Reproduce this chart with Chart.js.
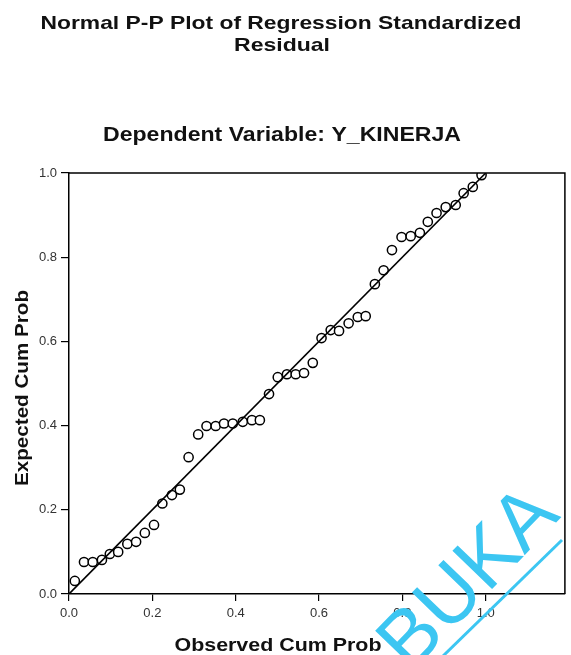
<!DOCTYPE html>
<html>
<head>
<meta charset="utf-8">
<script src="https://cdn.jsdelivr.net/npm/chart.js@4.4.1/dist/chart.umd.min.js"></script>
<style>
  html, body { margin: 0; padding: 0; background: #fff; }
  #wrap { width: 571px; height: 655px; position: relative; }
</style>
</head>
<body>
<div id="wrap"><canvas id="c" width="571" height="655"></canvas></div>
<script>
// ---- data ----
const titleLines = ["Normal P-P Plot of Regression Standardized", "Residual"];
const subtitleText = "Dependent Variable: Y_KINERJA";
const xTitle = "Observed Cum Prob";
const yTitle = "Expected Cum Prob";
const watermarkText = "BUKA";

const observedCumProb = [
  0.014, 0.036, 0.057, 0.079, 0.098, 0.118, 0.140, 0.161, 0.182, 0.204,
  0.224, 0.247, 0.266, 0.287, 0.310, 0.330, 0.352, 0.372, 0.393, 0.417,
  0.439, 0.458, 0.480, 0.501, 0.523, 0.544, 0.564, 0.585, 0.606, 0.628,
  0.648, 0.671, 0.693, 0.712, 0.734, 0.755, 0.775, 0.798, 0.820, 0.842,
  0.861, 0.882, 0.904, 0.928, 0.947, 0.969, 0.990
];
const expectedCumProb = [
  0.031, 0.076, 0.076, 0.081, 0.095, 0.100, 0.119, 0.124, 0.145, 0.164,
  0.215, 0.235, 0.248, 0.325, 0.379, 0.399, 0.399, 0.405, 0.405, 0.409,
  0.413, 0.413, 0.475, 0.515, 0.522, 0.522, 0.525, 0.549, 0.608, 0.627,
  0.625, 0.643, 0.658, 0.660, 0.736, 0.769, 0.817, 0.848, 0.850, 0.858,
  0.884, 0.905, 0.919, 0.924, 0.952, 0.967, 0.995
];
const refLineX = [0, 1];
const refLineY = [0, 1];
const xTicks = [0, 0.2, 0.4, 0.6, 0.8, 1.0];
const xTickLabels = ["0.0", "0.2", "0.4", "0.6", "0.8", "1.0"];
const yTicks = [0, 0.2, 0.4, 0.6, 0.8, 1.0];
const yTickLabels = ["0.0", "0.2", "0.4", "0.6", "0.8", "1.0"];
const xMin = 0, xMax = 1.19, yMin = 0, yMax = 1.0;

// ---- build ----
const points = observedCumProb.map((x, i) => ({ x: x, y: expectedCumProb[i] }));
const line = refLineX.map((x, i) => ({ x: x, y: refLineY[i] }));

// draw text at a fixed font size, squeezed/stretched horizontally to a target width
function fitText(ctx, text, x, y, size, target, weight, family) {
  ctx.save();
  ctx.font = weight + ' ' + size + 'px ' + family;
  const w = ctx.measureText(text).width;
  ctx.translate(x, y);
  ctx.scale(target / w, 1);
  ctx.textAlign = 'center';
  ctx.fillText(text, 0, 0);
  ctx.restore();
}

const textPlugin = {
  id: 'texts',
  afterDraw(chart) {
    const ctx = chart.ctx;
    const ca = chart.chartArea;
    const fam = "'Liberation Sans', Arial, sans-serif";
    ctx.save();
    // frame top and right
    ctx.strokeStyle = '#000';
    ctx.lineWidth = 1.5;
    ctx.beginPath();
    ctx.moveTo(ca.left, ca.top);
    ctx.lineTo(ca.right, ca.top);
    ctx.lineTo(ca.right, ca.bottom);
    ctx.stroke();

    ctx.fillStyle = '#111';
    ctx.textBaseline = 'alphabetic';
    fitText(ctx, titleLines[0], 281, 29, 19, 481, 'bold', fam);
    fitText(ctx, titleLines[1], 282, 51, 19, 96, 'bold', fam);
    fitText(ctx, subtitleText, 282, 141, 19.5, 358, 'bold', fam);
    fitText(ctx, xTitle, 278, 651, 18, 207, 'bold', fam);

    ctx.translate(28, 388);
    ctx.rotate(-Math.PI / 2);
    fitText(ctx, yTitle, 0, 0, 18, 196, 'bold', fam);
    ctx.restore();

    // watermark
    ctx.save();
    ctx.strokeStyle = '#3cc6f2';
    ctx.lineWidth = 3;
    ctx.beginPath();
    ctx.moveTo(443, 656);
    ctx.lineTo(562, 540);
    ctx.stroke();
    ctx.fillStyle = '#3cc6f2';
    ctx.translate(470, 580);
    ctx.rotate(-46 * Math.PI / 180);
    ctx.font = "80px 'Liberation Sans', Arial, sans-serif";
    ctx.textAlign = 'center';
    ctx.textBaseline = 'middle';
    ctx.fillText(watermarkText, 0, 0);
    ctx.restore();
  }
};

const tickFont = { family: "'Liberation Sans', Arial, sans-serif", size: 13 };

new Chart(document.getElementById('c'), {
  data: {
    datasets: [
      {
        type: 'line',
        data: line,
        borderColor: '#000',
        borderWidth: 1.6,
        pointRadius: 0,
        fill: false,
        order: 0
      },
      {
        type: 'scatter',
        data: points,
        pointStyle: 'circle',
        pointRadius: 4.6,
        borderWidth: 1.5,
        borderColor: '#000',
        backgroundColor: '#fff',
        order: 1
      }
    ]
  },
  options: {
    responsive: false,
    animation: false,
    layout: { padding: { top: 173, right: 6, left: 0, bottom: 0 } },
    plugins: { legend: { display: false }, tooltip: { enabled: false }, title: { display: false } },
    scales: {
      x: {
        type: 'linear',
        min: xMin, max: xMax,
        afterBuildTicks: (sc) => { sc.ticks = xTicks.map(v => ({ value: v })); },
        afterFit: (sc) => { sc.height = 61; },
        grid: { display: true, drawOnChartArea: false, drawTicks: true, tickLength: 7, color: '#000', lineWidth: 1.2 },
        border: { display: true, color: '#000', width: 1.5 },
        ticks: {
          color: '#333', font: tickFont, padding: 5, maxRotation: 0,
          callback: (v) => { const i = xTicks.indexOf(v); return i >= 0 ? xTickLabels[i] : ''; }
        }
      },
      y: {
        type: 'linear',
        min: yMin, max: yMax,
        afterBuildTicks: (sc) => { sc.ticks = yTicks.map(v => ({ value: v })); },
        afterFit: (sc) => { sc.width = 69; },
        grid: { display: true, drawOnChartArea: false, drawTicks: true, tickLength: 8, color: '#000', lineWidth: 1.2 },
        border: { display: true, color: '#000', width: 1.5 },
        ticks: {
          color: '#333', font: tickFont, padding: 4,
          callback: (v) => { const i = yTicks.indexOf(v); return i >= 0 ? yTickLabels[i] : ''; }
        }
      }
    }
  },
  plugins: [textPlugin]
});
</script>
</body>
</html>
